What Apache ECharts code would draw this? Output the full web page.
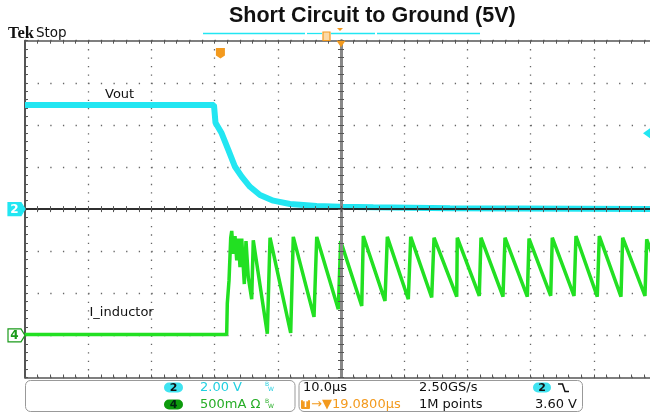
<!DOCTYPE html>
<html>
<head>
<meta charset="utf-8">
<style>html,body{margin:0;padding:0;background:#fff}#main{width:650px;height:413px}</style>
</head>
<body>
<div id="main"></div>
<script src="https://cdn.jsdelivr.net/npm/echarts@6/dist/echarts.min.js"></script>
<script>
// time in us, measured from the screen centre (10 us/div)
var voutT = [-50, -20.1, -19.86, -18.88, -17.83, -16.77, -15.71, -14.40, -12.82, -10.71, -8.07, -3.84, -0.16, 5.11, 17.25, 50];
var voutV = [4.95, 4.95, 4.10, 3.60, 2.81, 2.01, 1.54, 1.06, 0.67, 0.40, 0.24, 0.15, 0.11, 0.085, 0.04, 0.0];

var iT = [-50, -18.09, -17.99, -17.72, -17.45, -17.29, -17.04, -16.77, -16.50, -16.25, -15.98, -15.71, -15.30, -15.03, -14.67, -14.13, -13.88,
  -11.66, -11.23, -7.96, -7.55, -4.27, -3.84, -0.43, -0.05, 3.28, 3.53, 6.96, 7.33, 10.65, 11.03, 14.35, 14.72, 18.31, 18.40,
  21.88, 22.15, 25.63, 25.95, 29.48, 29.75, 33.18, 33.43, 36.87, 37.18, 40.55, 40.87, 44.30, 44.57, 48.10, 48.37, 50];
var iA = [0.01, 0.01, 0.38, 0.65, 1.16, 1.24, 0.97, 1.18, 0.89, 1.15, 0.81, 1.15, 0.61, 1.12, 0.69, 0.43, 1.13,
  0.02, 1.16, 0.03, 1.17, 0.22, 1.17, 0.31, 1.12, 0.35, 1.18, 0.41, 1.17, 0.43, 1.17, 0.45, 1.16, 0.46, 1.16,
  0.47, 1.16, 0.46, 1.16, 0.46, 1.15, 0.47, 1.16, 0.47, 1.18, 0.46, 1.18, 0.46, 1.16, 0.47, 1.14, 0.81];

var trigTime = -19.08;
var trigLevel = 3.6;

var cyan = '#22e6f2', green = '#22e022', orange = '#f39a1e';

function pairs(xs, ys) {
  var out = [];
  for (var i = 0; i < xs.length; i++) out.push([xs[i], ys[i]]);
  return out;
}

function timeAxis(pos, inside, center) {
  return {
    type: 'value', min: -50, max: 50, interval: 10, position: pos, z: center ? 5 : 0,
    axisLine: center ? {show: true, onZero: true, onZeroAxisIndex: 0, lineStyle: {color: '#222', width: 1.5}}
                     : {show: true, onZero: false, lineStyle: {color: '#555', width: 1.5}},
    axisTick: {show: true, inside: inside, length: 3, lineStyle: {color: '#555'}},
    minorTick: {show: true, splitNumber: 5, length: 3, lineStyle: {color: '#555'}},
    axisLabel: {show: false},
    splitLine: {show: pos === 'bottom' && !center, lineStyle: {color: '#666', width: 1.3, type: [1.3, 7.12]}}
  };
}

function voltAxis(inside, center, split) {
  return {
    type: 'value', min: -8, max: 8, interval: 2, position: 'left', z: center ? 5 : 0,
    axisLine: center ? {show: true, onZero: true, onZeroAxisIndex: 0, lineStyle: {color: '#888', width: 3}}
                     : {show: true, onZero: false, lineStyle: {color: '#555', width: 2}},
    axisTick: {show: true, inside: inside, length: 3, lineStyle: {color: '#555'}},
    minorTick: {show: true, splitNumber: 5, length: 3, lineStyle: {color: '#555'}},
    axisLabel: {show: false},
    splitLine: {show: split, lineStyle: {color: '#666', width: 1.3, type: [1.3, 11.34]}}
  };
}

var chart = echarts.init(document.getElementById('main'));
chart.setOption({
  animation: false,
  backgroundColor: '#fff',
  grid: {left: 25, top: 40.7, width: 632, height: 336.8, outerBoundsMode: 'none', containLabel: false},
  xAxis: [timeAxis('bottom', true, false), timeAxis('top', true, false), timeAxis('bottom', true, true), timeAxis('bottom', false, true)],
  yAxis: [
    voltAxis(true, false, true),
    {type: 'value', min: -0.5, max: 3.5, interval: 0.5, show: false, axisLine: {onZero: false}},
    voltAxis(true, true, false),
    voltAxis(false, true, false)
  ],
  series: [
    {name: 'Vout', type: 'line', xAxisIndex: 0, yAxisIndex: 0, showSymbol: false, z: 3,
     lineStyle: {color: cyan, width: 6}, data: pairs(voutT, voutV)},
    {name: 'I_inductor', type: 'line', xAxisIndex: 0, yAxisIndex: 1, showSymbol: false, z: 3,
     lineStyle: {color: green, width: 3.5}, data: pairs(iT, iA)}
  ]
});

var g2 = chart.convertToPixel({seriesIndex: 0}, [-50, 0]);
var g4 = chart.convertToPixel({seriesIndex: 1}, [-50, 0]);
var tl = chart.convertToPixel({seriesIndex: 0}, [trigTime, trigLevel]);
var ctr = chart.convertToPixel({seriesIndex: 0}, [0, 8]);

function marker(p, fill, stroke, label, color) {
  var x = p[0], y = p[1];
  return [
    {type: 'polygon', z: 20, shape: {points: [[x - 17, y - 6.5], [x - 4, y - 6.5], [x, y], [x - 4, y + 6.5], [x - 17, y + 6.5]]},
     style: {fill: fill, stroke: stroke, lineWidth: 1.2}},
    {type: 'text', z: 21, style: {text: label, x: x - 10.5, y: y + 0.5, fill: color, font: 'bold 12px "DejaVu Sans"', textAlign: 'center', textVerticalAlign: 'middle'}}
  ];
}

function txt(s, x, y, color, font, align) {
  return {type: 'text', z: 20, style: {text: s, x: x, y: y, fill: color, font: font || '13px "DejaVu Sans"', textAlign: align || 'left', textVerticalAlign: 'middle'}};
}

function badge(x, y, w, fill, label, color) {
  return [
    {type: 'rect', z: 20, shape: {x: x, y: y - 5, width: w, height: 10, r: 5}, style: {fill: fill}},
    txt(label, x + w / 2, y + 0.5, color, 'bold 11px "DejaVu Sans"', 'center')
  ];
}

var els = [];
els.push(txt('Short Circuit to Ground (5V)', 229, 16, '#111', 'bold 21.5px "Liberation Sans"'));
els.push(txt('Tek', 8, 33.5, '#111', 'bold 16.5px "Liberation Serif"'));
els.push(txt('Stop', 36, 33.5, '#111', '13.5px "DejaVu Sans"'));
els.push(txt('Vout', 105, 95, '#111', '13px "DejaVu Sans"'));
els.push(txt('I_inductor', 89.5, 312.5, '#111', '13px "DejaVu Sans"'));

// record bar at the top
[[203, 305], [307, 322], [331, 375], [377, 480]].forEach(function (s) {
  els.push({type: 'line', z: 20, shape: {x1: s[0], y1: 33.5, x2: s[1], y2: 33.5}, style: {stroke: cyan, lineWidth: 1.3}});
});
els.push({type: 'rect', z: 21, shape: {x: 323, y: 32, width: 7, height: 8.5}, style: {fill: '#fbd9a6', stroke: orange, lineWidth: 1.2}});
els.push(txt('T', 326.5, 36.5, orange, 'bold 7px "DejaVu Sans"', 'center'));
els.push({type: 'polygon', z: 21, shape: {points: [[337, 28], [343, 28], [340, 31]]}, style: {fill: orange}});

// trigger markers
els.push({type: 'polygon', z: 21, shape: {points: [[ctr[0] - 4.5, ctr[1]], [ctr[0] + 4.5, ctr[1]], [ctr[0], ctr[1] + 6.5]]}, style: {fill: orange}});
var tx = tl[0];
els.push({type: 'polygon', z: 21, shape: {points: [[tx - 4.5, 48], [tx + 4.5, 48], [tx + 4.5, 55.5], [tx, 58.5], [tx - 4.5, 55.5]]}, style: {fill: orange}});
els.push(txt('T', tx, 52, '#fff', 'bold 8px "DejaVu Sans"', 'center'));
els.push({type: 'polygon', z: 21, shape: {points: [[643, tl[1]], [650, tl[1] - 5], [650, tl[1] + 5]]}, style: {fill: cyan}});

els = els.concat(marker(g2, cyan, cyan, '2', '#fff'));
els = els.concat(marker(g4, '#fff', '#1a9a1a', '4', '#1a9a1a'));

// status bar
els.push({type: 'rect', z: 20, shape: {x: 25.5, y: 380.5, width: 269.5, height: 31, r: 5}, style: {fill: '#fff', stroke: '#999', lineWidth: 1}});
els.push({type: 'rect', z: 20, shape: {x: 299, y: 380.5, width: 283.5, height: 31, r: 5}, style: {fill: '#fff', stroke: '#999', lineWidth: 1}});
els = els.concat(badge(164, 387.5, 19, '#3fe3f0', '2', '#111'));
els.push(txt('2.00 V', 200, 387.5, '#22cfe0'));
els.push(txt('B', 265, 384.5, '#22cfe0', '6px "DejaVu Sans"'));
els.push(txt('W', 268, 389, '#22cfe0', '6px "DejaVu Sans"'));
els = els.concat(badge(164, 404.5, 19, '#0c9a0c', '4', '#021'));
els.push(txt('500mA \u03A9', 200, 404.5, '#26ad26'));
els.push(txt('B', 265, 401.5, '#26ad26', '6px "DejaVu Sans"'));
els.push(txt('W', 268, 406, '#26ad26', '6px "DejaVu Sans"'));

els.push(txt('10.0\u00B5s', 303, 387.5, '#111'));
els.push(txt('2.50GS/s', 419, 387.5, '#111'));
els = els.concat(badge(533, 387.5, 18, '#3fe3f0', '2', '#111'));
els.push({type: 'polyline', z: 20, shape: {points: [[558, 384], [562.5, 384], [565, 391.5], [569, 391.5]]}, style: {stroke: '#111', lineWidth: 1.5, fill: null}});
els.push({type: 'rect', z: 20, shape: {x: 301, y: 400, width: 9, height: 9, r: 1}, style: {fill: orange}});
els.push(txt('T', 305.5, 404.5, '#fff', 'bold 8px "DejaVu Sans"', 'center'));
els.push(txt('\u2192\u25BC19.0800\u00B5s', 311, 404.5, orange));
els.push(txt('1M points', 419, 404.5, '#111'));
els.push(txt('3.60 V', 535, 404.5, '#111'));

chart.setOption({graphic: {elements: els}});
</script>
</body>
</html>
